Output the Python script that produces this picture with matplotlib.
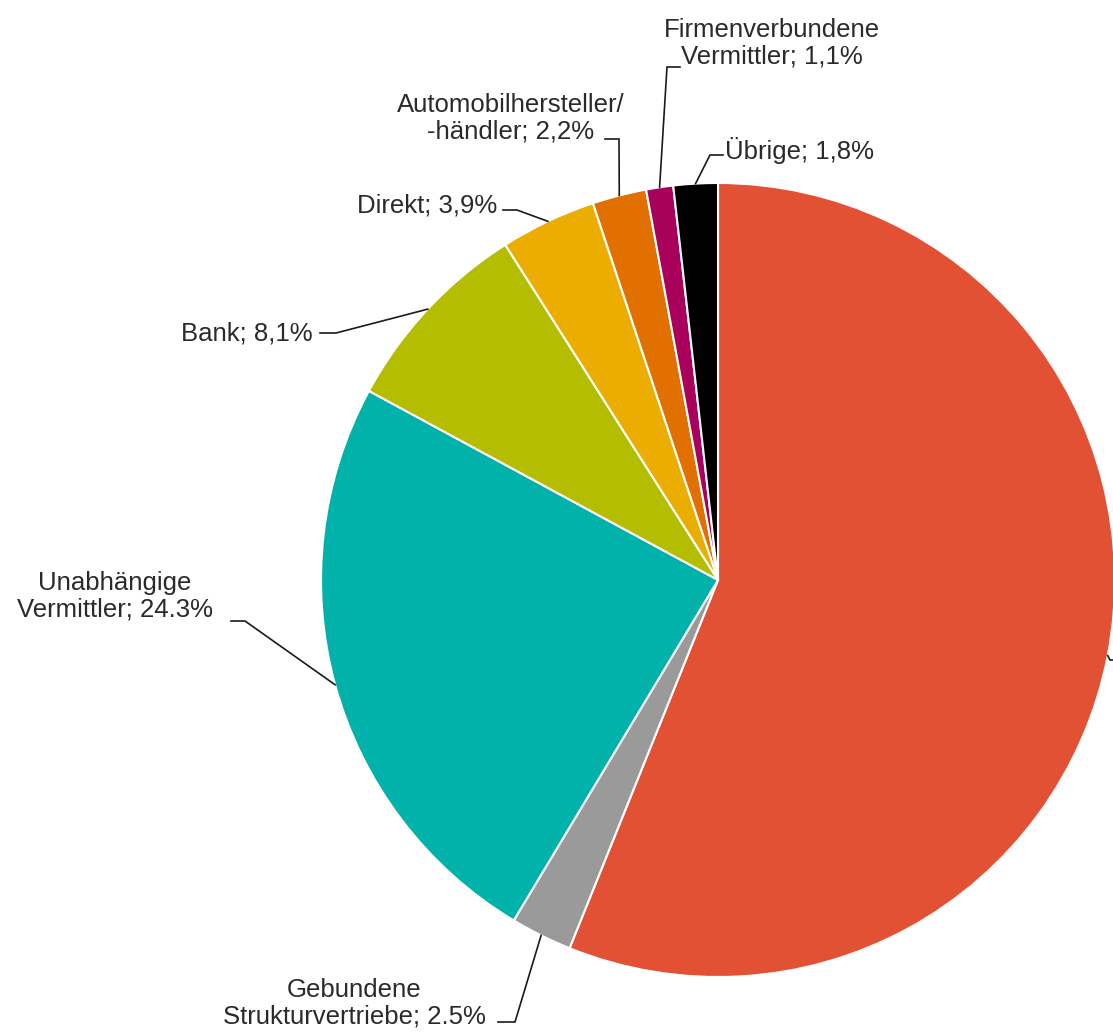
import numpy as np
import matplotlib.pyplot as plt

plt.rcParams['font.family'] = ['Liberation Sans', 'DejaVu Sans']

# data, clockwise from 12 o'clock
labels = ['', 'Gebundene\nStrukturvertriebe; 2.5%', 'Unabhängige\nVermittler; 24.3%',
          'Bank; 8,1%', 'Direkt; 3,9%', 'Automobilhersteller/\n-händler; 2,2%',
          'Firmenverbundene\nVermittler; 1,1%', 'Übrige; 1,8%']
shares = [56.1, 2.5, 24.3, 8.1, 3.9, 2.2, 1.1, 1.8]
colors = ['#E25134', '#9A9A9A', '#00B2A9', '#B4BD00', '#EBAE00', '#E17000', '#A9005B', '#000000']

W, H = 1113, 1035
fig = plt.figure(figsize=(W / 100, H / 100), dpi=100)
ax = fig.add_axes([0, 0, 1, 1])

cx, cy, r = 718, H - 580, 397
wedges, _ = ax.pie(shares, colors=colors, startangle=90, counterclock=False,
                   center=(cx, cy), radius=r, frame=True,
                   wedgeprops=dict(edgecolor='white', linewidth=1.5))
ax.set_xlim(0, W)
ax.set_ylim(0, H)
ax.set_aspect('equal')
ax.axis('off')

# leader line elbows (pixel coords, y from top)
leaders = [
    [(1110, 660), (1125, 660)],
    [(515, 1022), (498, 1022)],
    [(245, 621), (231, 621)],
    [(336, 333), (320, 333)],
    [(517, 210), (503, 210)],
    [(619, 139), (605, 139)],
    [(667, 67), (680, 67)],
    [(710, 155), (723, 155)],
]
# label x, y, horizontal alignment
text_pos = [
    None,
    (354, 1003, 'center'),
    (115, 596, 'center'),
    (247, 333, 'center'),
    (427, 205, 'center'),
    (511, 118, 'center'),
    (772, 43, 'center'),
    (725, 150, 'left'),
]

for w, pts, tp, lab in zip(wedges, leaders, text_pos, labels):
    mid = np.deg2rad((w.theta1 + w.theta2) / 2)
    ax_x = cx + r * np.cos(mid)
    ax_y = cy + r * np.sin(mid)
    xs = [ax_x] + [p[0] for p in pts]
    ys = [ax_y] + [H - p[1] for p in pts]
    ax.plot(xs, ys, color='#1a1a1a', lw=1.2, solid_joinstyle='miter', clip_on=False)
    if tp is not None:
        ax.text(tp[0], H - tp[1], lab, ha=tp[2], va='center', fontsize=18.5,
                color='#2a2a2a', linespacing=1.15)

fig.savefig('out.png', dpi=100)
